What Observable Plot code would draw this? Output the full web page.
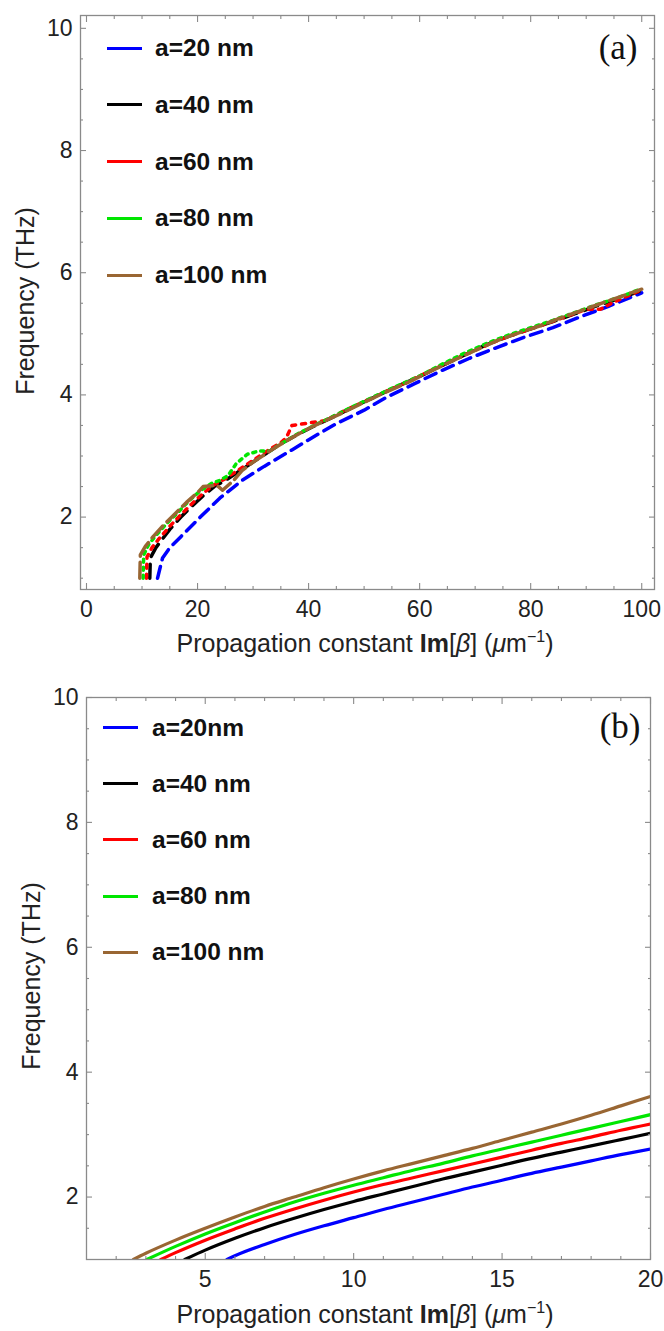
<!DOCTYPE html>
<html><head><meta charset="utf-8">
<script src="https://cdn.jsdelivr.net/npm/d3@7"></script>
<script src="https://cdn.jsdelivr.net/npm/@observablehq/plot@0.6"></script>
<style>
body{margin:0;background:#fff;}
#wrap{position:relative;width:664px;height:1331px;overflow:hidden;background:#fff;font-family:"Liberation Sans",Arial,sans-serif;}
.svgbox{position:absolute;left:0;}
.legtext{position:absolute;font-weight:bold;font-size:24.5px;line-height:30px;height:30px;color:#111;white-space:nowrap;}
.legline{position:absolute;height:3px;width:35px;}
.xtitle{position:absolute;left:65px;width:600px;text-align:center;font-size:25px;line-height:25px;color:#222;white-space:nowrap;}
.ytitle{position:absolute;width:300px;height:30px;line-height:30px;text-align:center;font-size:25px;color:#222;transform:rotate(-90deg);white-space:nowrap;}
</style></head><body><div id="wrap"></div>
<script>
// ---------- labels & styles ----------
const labelsA = ["a=20 nm", "a=40 nm", "a=60 nm", "a=80 nm", "a=100 nm"];
const labelsB = ["a=20nm", "a=40 nm", "a=60 nm", "a=80 nm", "a=100 nm"];
const colors = ["#0000ff", "#000000", "#ff0000", "#00e600", "#996633"];
const dashesA = ["12,7", "14,8", "4,6", "3,5", "16,6"];

// ---------- panel (a) data: Im[beta] (1/um) vs frequency (THz) ----------
const a20x = [12.8, 13.2, 13.7, 15, 17, 20.5, 24, 28, 32, 37, 41, 45, 50, 54, 59, 64, 69, 74, 79, 84, 89, 94, 100];
const a20y = [1.0, 1.15, 1.33, 1.5, 1.68, 2.0, 2.31, 2.6, 2.83, 3.1, 3.32, 3.53, 3.75, 3.96, 4.18, 4.4, 4.6, 4.78, 4.95, 5.1, 5.28, 5.45, 5.67];
const a40x = [11.4, 11.5, 12.5, 13.5, 15, 17, 19, 21, 23, 25, 27, 29, 31, 33, 35, 38, 41, 44, 48, 52, 56, 60, 64, 68, 72, 76, 80, 84, 88, 92, 96, 100];
const a40y = [1.0, 1.33, 1.5, 1.62, 1.8, 2.0, 2.18, 2.35, 2.5, 2.6, 2.72, 2.84, 2.96, 3.08, 3.2, 3.35, 3.49, 3.62, 3.8, 3.97, 4.14, 4.3, 4.48, 4.65, 4.82, 4.96, 5.08, 5.2, 5.33, 5.46, 5.58, 5.71];
const a60x = [10.8, 10.9, 11.8, 13, 15, 17, 19, 21, 23, 25, 27, 29, 31, 33, 35, 36, 37, 40, 43, 46, 50, 54, 58, 62, 66, 70, 74, 78, 82, 86, 90, 92.5, 95, 100];
const a60y = [1.0, 1.35, 1.5, 1.64, 1.85, 2.04, 2.22, 2.39, 2.53, 2.63, 2.75, 2.87, 2.99, 3.11, 3.22, 3.3, 3.5, 3.54, 3.58, 3.72, 3.89, 4.06, 4.22, 4.4, 4.57, 4.73, 4.89, 5.02, 5.14, 5.27, 5.4, 5.4, 5.52, 5.72];
const a80x = [10.2, 10.3, 11.2, 12.5, 14.5, 16.5, 18.5, 20.5, 22.5, 24, 25.5, 27, 29, 31, 33, 35, 38, 41, 44, 48, 52, 56, 60, 64, 68, 72, 76, 80, 84, 88, 92, 96, 100];
const a80y = [1.0, 1.38, 1.55, 1.7, 1.9, 2.08, 2.27, 2.43, 2.55, 2.6, 2.68, 2.88, 3.03, 3.08, 3.08, 3.2, 3.36, 3.5, 3.63, 3.81, 3.98, 4.15, 4.31, 4.5, 4.68, 4.84, 4.98, 5.1, 5.22, 5.35, 5.48, 5.6, 5.74];
const a100x = [9.6, 9.7, 10.6, 12, 14, 16, 18, 20, 21, 23.5, 24.5, 26.5, 28, 30, 32, 34, 37, 40, 43, 46, 50, 54, 58, 62, 66, 70, 74, 78, 82, 86, 90, 94, 100];
const a100y = [1.0, 1.38, 1.52, 1.68, 1.88, 2.06, 2.24, 2.4, 2.5, 2.52, 2.44, 2.6, 2.76, 2.9, 3.02, 3.14, 3.3, 3.45, 3.58, 3.7, 3.88, 4.05, 4.21, 4.39, 4.56, 4.73, 4.89, 5.02, 5.14, 5.28, 5.41, 5.54, 5.73];

// ---------- panel (b) data ----------
const b20x = [5.73, 6, 7, 8, 9, 10, 11, 12, 13, 14, 15, 16, 17, 18, 19, 20];
const b20y = [1.0, 1.06, 1.24, 1.4, 1.54, 1.67, 1.8, 1.92, 2.04, 2.16, 2.27, 2.38, 2.48, 2.58, 2.68, 2.77];
const b40x = [4.31, 5, 6, 7, 8, 9, 10, 11, 12, 13, 14, 15, 16, 17, 18, 19, 20];
const b40y = [1.0, 1.15, 1.34, 1.51, 1.66, 1.8, 1.93, 2.05, 2.17, 2.29, 2.4, 2.51, 2.62, 2.72, 2.82, 2.92, 3.02];
const b60x = [3.5, 4, 5, 6, 7, 8, 9, 10, 11, 12, 13, 14, 15, 16, 17, 18, 19, 20];
const b60y = [1.0, 1.11, 1.31, 1.49, 1.66, 1.81, 1.95, 2.08, 2.2, 2.31, 2.42, 2.53, 2.64, 2.75, 2.86, 2.96, 3.07, 3.17];
const b80x = [3.03, 4, 5, 6, 7, 8, 9, 10, 11, 12, 13, 14, 15, 16, 17, 18, 19, 20];
const b80y = [1.0, 1.21, 1.41, 1.59, 1.76, 1.92, 2.06, 2.19, 2.31, 2.43, 2.54, 2.66, 2.77, 2.88, 2.99, 3.1, 3.21, 3.32];
const b100x = [2.58, 3, 4, 5, 6, 7, 8, 9, 10, 11, 12, 13, 14, 15, 16, 17, 18, 19, 20];
const b100y = [1.0, 1.1, 1.31, 1.5, 1.68, 1.85, 2.0, 2.15, 2.29, 2.42, 2.54, 2.66, 2.78, 2.91, 3.04, 3.17, 3.31, 3.46, 3.61];

// ---------- ticks ----------
const xMajorA = [0, 20, 40, 60, 80, 100];
const xMinorA = [5, 10, 15, 25, 30, 35, 45, 50, 55, 65, 70, 75, 85, 90, 95];
const yMajor = [2, 4, 6, 8, 10];
const yMinorA = [1, 1.5, 2.5, 3, 3.5, 4.5, 5, 5.5, 6.5, 7, 7.5, 8.5, 9, 9.5];
const xMajorB = [5, 10, 15, 20];
const xMinorB = [2, 3, 4, 6, 7, 8, 9, 11, 12, 13, 14, 16, 17, 18, 19];
const yMinorB = [1.5, 2.5, 3, 3.5, 4.5, 5, 5.5, 6.5, 7, 7.5, 8.5, 9, 9.5];

function toRows(xs, ys, label) { return xs.map((x, i) => ({x, y: ys[i], s: label})); }
const seriesA = [[a20x, a20y], [a40x, a40y], [a60x, a60y], [a80x, a80y], [a100x, a100y]];
const seriesB = [[b20x, b20y], [b40x, b40y], [b60x, b60y], [b80x, b80y], [b100x, b100y]];

const frameColor = "#8a8a8a";
const textColor = "#222";

function axes(xMaj, xMin, yMaj, yMin) {
  const common = {stroke: frameColor, fill: textColor, label: null, strokeWidth: 1.1};
  const blank = () => "";
  const fmt = d => String(d);
  return [
    Plot.axisX(xMaj, {...common, anchor: "bottom", tickSize: -6, tickPadding: 17, tickFormat: fmt}),
    Plot.axisX(xMin, {...common, anchor: "bottom", tickSize: -3, tickFormat: blank}),
    Plot.axisX(xMaj, {...common, anchor: "top", tickSize: -6, tickFormat: blank}),
    Plot.axisX(xMin, {...common, anchor: "top", tickSize: -3, tickFormat: blank}),
    Plot.axisY(yMaj, {...common, anchor: "left", tickSize: -6, tickPadding: 14, tickFormat: fmt}),
    Plot.axisY(yMin, {...common, anchor: "left", tickSize: -3, tickFormat: blank}),
    Plot.axisY(yMaj, {...common, anchor: "right", tickSize: -6, tickFormat: blank}),
    Plot.axisY(yMin, {...common, anchor: "right", tickSize: -3, tickFormat: blank})
  ];
}

const style = {fontFamily: "'Liberation Sans', Arial, sans-serif", fontSize: "23px", background: "white", color: textColor, overflow: "visible"};

const plotA = Plot.plot({
  width: 664, height: 660,
  marginTop: 15, marginBottom: 71, marginLeft: 80, marginRight: 10,
  x: {domain: [-1.08, 102.3]},
  y: {domain: [0.815, 10.21]},
  style,
  marks: [
    ...seriesA.map(([xs, ys], i) => Plot.line(toRows(xs, ys, labelsA[i]), {
      x: "x", y: "y", stroke: colors[i], strokeWidth: 3.5, strokeDasharray: dashesA[i], clip: true
    })),
    Plot.frame({stroke: frameColor, strokeWidth: 1.3}),
    ...axes(xMajorA, xMinorA, yMajor, yMinorA),
    Plot.text(["(a)"], {frameAnchor: "top-right", dx: -17, dy: 32, textAnchor: "end", lineAnchor: "middle",
      fontFamily: "'Liberation Serif', 'Times New Roman', serif", fontSize: 35, fill: "#111"})
  ]
});

const plotB = Plot.plot({
  width: 664, height: 671,
  marginTop: 37, marginBottom: 72, marginLeft: 86, marginRight: 14,
  x: {domain: [1, 20]},
  y: {domain: [1, 10]},
  style,
  marks: [
    ...seriesB.map(([xs, ys], i) => Plot.line(toRows(xs, ys, labelsB[i]), {
      x: "x", y: "y", stroke: colors[i], strokeWidth: 3.2, curve: "monotone-x", clip: true
    })),
    Plot.frame({stroke: frameColor, strokeWidth: 1.3}),
    ...axes(xMajorB, xMinorB, yMajor, yMinorB),
    Plot.text(["(b)"], {frameAnchor: "top-right", dx: -10, dy: 29, textAnchor: "end", lineAnchor: "middle",
      fontFamily: "'Liberation Serif', 'Times New Roman', serif", fontSize: 35, fill: "#111"})
  ]
});

const wrap = document.getElementById("wrap");
function place(el, top) { const d = document.createElement("div"); d.className = "svgbox"; d.style.top = top + "px"; d.appendChild(el); wrap.appendChild(d); }
place(plotA, 0);
place(plotB, 660);

function legend(labels, firstCenter, spacing, lineLeft, textLeft) {
  labels.forEach((lab, i) => {
    const c = firstCenter + i * spacing;
    const ln = document.createElement("div");
    ln.className = "legline"; ln.style.left = lineLeft + "px"; ln.style.top = (c - 1.5) + "px"; ln.style.background = colors[i];
    wrap.appendChild(ln);
    const t = document.createElement("div");
    t.className = "legtext"; t.style.left = textLeft + "px"; t.style.top = (c - 15) + "px"; t.textContent = lab;
    wrap.appendChild(t);
  });
}
legend(labelsA, 48, 56.8, 107, 155);
legend(labelsB, 727.7, 56.1, 103, 152);

const xTitleHTML = 'Propagation constant <b>Im</b>[<i>β</i>] (<i>μ</i>m<sup style="font-size:16px;vertical-align:10px;line-height:0">−1</sup>)';
function xTitle(baseline) {
  const d = document.createElement("div"); d.className = "xtitle"; d.style.top = (baseline - 21) + "px"; d.innerHTML = xTitleHTML; wrap.appendChild(d);
}
xTitle(652); xTitle(1323);
function yTitle(cx, cy) {
  const d = document.createElement("div"); d.className = "ytitle"; d.style.left = (cx - 150) + "px"; d.style.top = (cy - 15) + "px"; d.textContent = "Frequency (THz)"; wrap.appendChild(d);
}
yTitle(25, 301); yTitle(31, 976);
</script></body></html>
